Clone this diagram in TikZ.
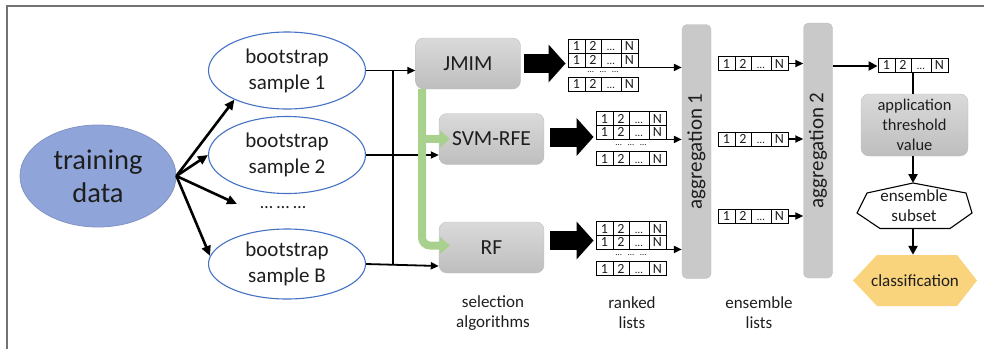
\documentclass[tikz,border=0pt]{standalone}
\usepackage{fontspec}
\setmainfont{Carlito}
\usetikzlibrary{arrows.meta,shapes.geometric}
\definecolor{txt}{RGB}{30,30,30}
\definecolor{bluefill}{RGB}{143,165,218}
\definecolor{blueline}{RGB}{68,114,196}
\definecolor{grn}{RGB}{169,209,142}
\definecolor{gold}{RGB}{249,212,125}
\definecolor{framec}{RGB}{115,115,115}
\definecolor{boxtop}{RGB}{218,218,218}
\definecolor{boxbot}{RGB}{190,190,190}
\newcommand{\fsz}[2]{\fontsize{#1}{#2}\selectfont}
\newcommand{\rankrow}[3]{%
  \node[cellrow] (#1) at ({#2+35},#3) {};
  \draw[celll] ({#2+17},{#3-7}) -- ({#2+17},{#3+7});
  \draw[celll] ({#2+33},{#3-7}) -- ({#2+33},{#3+7});
  \draw[celll] ({#2+53},{#3-7}) -- ({#2+53},{#3+7});
  \node[celltxt] at ({#2+8.5},#3) {1};
  \node[celltxt] at ({#2+25},#3) {2};
  \node[celltxt, font=\fsz{11}{11}] at ({#2+43},#3) {…};
  \node[celltxt] at ({#2+61.5},#3) {N};
}
\tikzset{
  train/.style={ellipse, fill=bluefill, draw=bluefill!90!black, line width=0.8,
    minimum width=156, minimum height=102, inner sep=0, align=center, font=\fsz{28.5}{33}},
  boot/.style={ellipse, fill=white, draw=blueline, line width=1.1,
    minimum width=157, minimum height=77, inner sep=0, align=center, font=\fsz{21}{26}},
  algbox/.style={rounded corners=8, top color=boxtop, bottom color=boxbot, draw=boxbot,
    line width=0.4, minimum width=105, minimum height=51, inner sep=0, font=\fsz{21.5}{26}},
  aggbox/.style={rounded corners=5, fill=boxbot!60!boxtop, draw=boxbot,
    line width=0.4, minimum width=29, minimum height=254, inner sep=0},
  aggtxt/.style={rotate=90, font=\fsz{21}{26}, inner sep=0},
  cellrow/.style={draw=black, line width=0.9, minimum width=70, minimum height=14, inner sep=0, fill=white},
  celll/.style={line width=0.9},
  celltxt/.style={font=\fsz{14}{14}, inner sep=0, text height=9, text depth=0},
  dotsrow/.style={font=\fsz{9}{9}, inner sep=0},
  label/.style={font=\fsz{17}{20}, align=center, inner sep=0},
  conn/.style={line width=1.8, -{Triangle[length=8pt,width=7pt]}},
  trarr/.style={line width=2.6, -{Triangle[length=10pt,width=9pt]}},
  plain/.style={line width=1.8},
  thick2/.style={line width=2.6, -{Triangle[length=9pt,width=9pt]}},
  blockarr/.style={line width=19, line cap=butt, -{Triangle[length=17pt,width=37pt]}},
  grnarr/.style={draw=grn, line width=8, -{Triangle[length=10pt,width=17pt]}},
}
\begin{document}
\begin{tikzpicture}[x=1pt,y=-1pt, every node/.style={text=txt}]
\path[use as bounding box] (0,0) rectangle (984,349);
\draw[framec, line width=1.5] (7,349) -- (7,6) -- (984,6);

% training data and bootstrap samples
\node[train] (td) at (98,176) {training\\data};
\node[boot] (s1) at (287,70.5) {bootstrap\\sample 1};
\node[boot] (s2) at (287,155) {bootstrap\\sample 2};
\node[boot, minimum height=70] (s3) at (287,264) {bootstrap\\sample B};
\node[font=\fsz{18}{18}, inner sep=0] (sd) at (283,208) {… … …};
\coordinate (sdt) at (237,204);

\draw[trarr] (td.east) -- (s1.209);
\draw[trarr] (td.east) -- (s2.west);
\draw[trarr] (td.east) -- (sdt);
\draw[trarr] (td.east) -- (s3.174);

% selection algorithms
\node[algbox] (jmim) at (468,63.5) {JMIM};
\node[algbox] (svm) at (491.5,139) {SVM-RFE};
\node[algbox] (rf) at (491.5,247.5) {RF};

\coordinate (bar) at (393,0);
\draw[plain] (s1.east -| bar) -- (s3.east -| bar);
\draw[conn] (s1.east) -- (s1.east -| jmim.west);
\draw[conn] (s2.east) -- (s2.east -| svm.west);
\draw[conn] (s3.east) -- ([yshift=-2]s3.east -| rf.west);

\coordinate (gx) at (422,0);
\draw[grnarr] (jmim.south -| gx) |- ([xshift=11]svm.west);
\draw[grnarr, rounded corners=8] (jmim.south -| gx) |- ([xshift=11,yshift=2]rf.west);

% ranked lists
\rankrow{r11}{568}{46}
\rankrow{r12}{568}{60}
\node[dotsrow] (d1) at (603,72) {…\hspace{6pt}…\hspace{6pt}…};
\rankrow{r13}{568}{84}

\rankrow{r21}{596}{118.5}
\rankrow{r22}{596}{132}
\node[dotsrow] (d2) at (631,145) {…\hspace{6pt}…\hspace{6pt}…};
\rankrow{r23}{596}{158.5}

\rankrow{r31}{596}{228.5}
\rankrow{r32}{596}{242}
\node[dotsrow] (d3) at (631,255) {…\hspace{6pt}…\hspace{6pt}…};
\rankrow{r33}{596}{268.5}

\draw[blockarr] ([xshift=3]jmim.east) -- ([xshift=-2]jmim.east -| r11.west);
\draw[blockarr] ([xshift=6,yshift=2]svm.east) -- ([xshift=-2,yshift=2]svm.east -| r21.west);
\draw[blockarr] ([xshift=6,yshift=7]rf.east) -- ([xshift=-2,yshift=7]rf.east -| r31.west);

% aggregation 1
\node[aggbox] (agg1) at (696.5,151.5) {};
\node[aggtxt] at (agg1.center) {aggregation 1};
\draw[conn] (r12.south east) -- (r12.south east -| agg1.west);
\draw[conn] (r22.south east) -- (r22.south east -| agg1.west);
\draw[conn] (r32.south east) -- (r32.south east -| agg1.west);

% ensemble lists
\rankrow{e1}{718}{63.5}
\rankrow{e2}{718}{139}
\rankrow{e3}{718}{216}

% aggregation 2
\node[aggbox, minimum height=255] (agg2) at (818,150.5) {};
\node[aggtxt] at (agg2.center) {aggregation 2};
\draw[conn] (e1.east) -- (e1.east -| agg2.west);
\draw[conn] (e2.east) -- (e2.east -| agg2.west);
\draw[conn] (e3.east) -- (e3.east -| agg2.west);

% final list and post-processing
\rankrow{fin}{878}{65}
\draw[thick2] ([yshift=-1]fin.west -| agg2.east) -- ([yshift=-1]fin.west);

\node[algbox, minimum width=107, minimum height=62, align=center, font=\fsz{16.5}{20}] (thr) at (914.5,125) {application\\threshold\\value};
\draw[line width=2.6] (fin.south) -- (fin.south |- thr.north);

\draw[fill=white, line width=1.1] (913,183) -- (867,193) -- (857,213) -- (880,228.5) -- (950,228.5) -- (972,213) -- (966,193) -- cycle;
\node[font=\fsz{17}{20}, align=center, inner sep=0] (sub) at (914,206) {ensemble\\subset};
\coordinate (subtop) at (913,183);
\coordinate (subbot) at (913,228.5);
\draw[thick2] (thr.south -| subtop) -- (subtop);

\fill[gold] (853,280.5) -- (877,255) -- (957,255) -- (977,280.5) -- (957,306) -- (877,306) -- cycle;
\node[minimum width=124, minimum height=51, inner sep=0, font=\fsz{17}{20}] (cls) at (915,280.5) {classification};
\draw[thick2] (subbot) -- (subbot |- cls.north);

% bottom labels
\node[label] (l1) at (493,313) {selection\\algorithms};
\node[label] (l2) at (632,313) {ranked\\lists};
\node[label] (l3) at (759,313) {ensemble\\lists};
\end{tikzpicture}
\end{document}
